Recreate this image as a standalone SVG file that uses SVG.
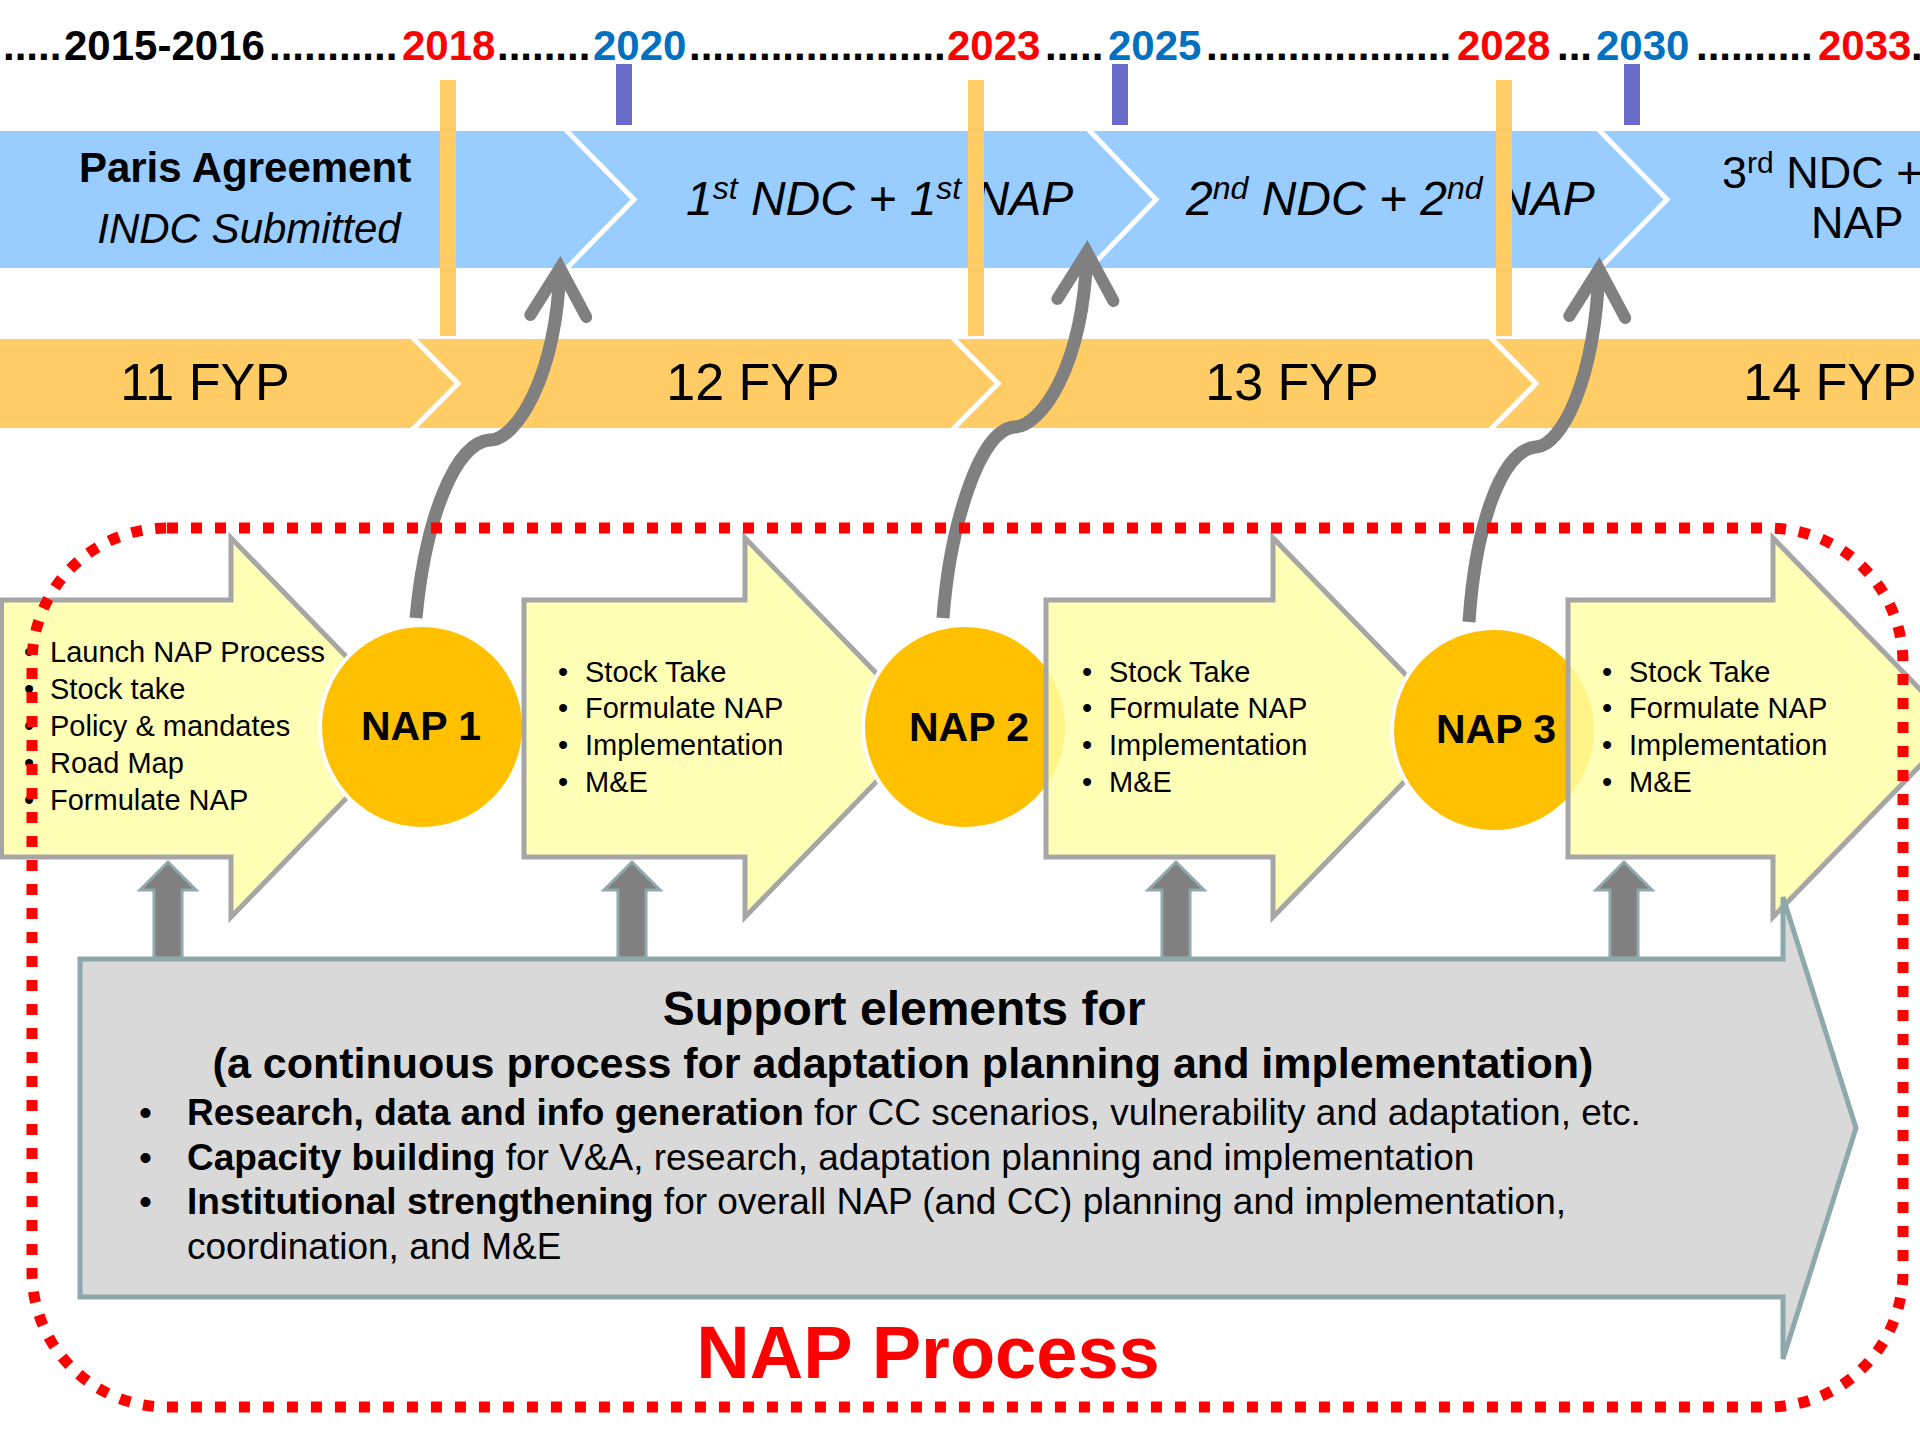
<svg xmlns="http://www.w3.org/2000/svg" width="1920" height="1440" viewBox="0 0 1920 1440">
<style>
text{font-family:"Liberation Sans",Arial,sans-serif;fill:#000}
.tl{font-size:42px;font-weight:bold}
.red{fill:#FF0000}
.blue{fill:#0070C0}
.otick{fill:#FFCC66}
.ptick{fill:#6B6BCC}
.sep{fill:none;stroke:#FFFFFF;stroke-width:5;stroke-linejoin:miter}
.ndc{font-size:48px;font-style:italic}
.fyp{font-size:52px;text-anchor:middle}
.yarrow{fill:#FFFFA6;fill-opacity:0.82;stroke:#A6A6A6;stroke-width:5}
.nap{fill:#FFC000;stroke:#FFFFFF;stroke-width:4}
.napt{font-size:41px;font-weight:bold;text-anchor:middle}
.bl{font-size:29px}
.up{fill:#808080;stroke:#8FA9AD;stroke-width:3}
.sup{fill:#D9D9D9;stroke:#8EA9AC;stroke-width:5}
.st{font-size:37px}
.b{font-weight:bold}
.curve{fill:none;stroke:#808080;stroke-width:13;stroke-linecap:butt}
</style>
<defs>
<marker id="vhead" markerUnits="userSpaceOnUse" viewBox="-70 -50 100 100" markerWidth="100" markerHeight="100" refX="0" refY="0" orient="auto" overflow="visible">
<path d="M-48,-28 L0,0 L-48,28" fill="none" stroke="#808080" stroke-width="12" stroke-linecap="round" stroke-linejoin="miter"/>
</marker>
</defs>
<rect width="1920" height="1440" fill="#FFFFFF"/>

<g id="timeline">
<text class="tl" y="60"><tspan x="3">.....</tspan><tspan x="64">2015-2016</tspan><tspan x="269">...........</tspan><tspan x="402" class="red">2018</tspan><tspan x="497">........</tspan><tspan x="593" class="blue">2020</tspan><tspan x="689">......................</tspan><tspan x="947" class="red">2023</tspan><tspan x="1045">.....</tspan><tspan x="1108" class="blue">2025</tspan><tspan x="1206">.....................</tspan><tspan x="1457" class="red">2028</tspan><tspan x="1557">...</tspan><tspan x="1596" class="blue">2030</tspan><tspan x="1696">..........</tspan><tspan x="1818" class="red">2033</tspan><tspan x="1911">.</tspan></text>
</g>

<g id="ndc-band">
<rect x="0" y="131" width="1920" height="137" fill="#99CCFF"/>
<polyline class="sep" points="564,128 634,199.5 564,271"/>
<polyline class="sep" points="1087,128 1156,199.5 1087,271"/>
<polyline class="sep" points="1597,128 1667,199.5 1597,271"/>
<g id="seg-paris">
<text x="245" y="182" font-size="42" font-weight="bold" text-anchor="middle">Paris Agreement</text>
<text x="249" y="243" font-size="42" font-style="italic" text-anchor="middle">INDC Submitted</text>
</g>
<g id="seg-ndc1">
<text class="ndc" x="686" y="215">1<tspan dy="-16" font-size="32">st</tspan><tspan dy="16"> NDC + 1</tspan><tspan dy="-16" font-size="32">st</tspan><tspan dy="16"> NAP</tspan></text>
</g>
<g id="seg-ndc2">
<text class="ndc" x="1186" y="215">2<tspan dy="-16" font-size="32">nd</tspan><tspan dy="16"> NDC + 2</tspan><tspan dy="-16" font-size="32">nd</tspan><tspan dy="16"> NAP</tspan></text>
</g>
<g id="seg-ndc3">
<text x="1722" y="188" font-size="45">3<tspan dy="-15" font-size="30">rd</tspan><tspan dy="15"> NDC +</tspan></text>
<text x="1811" y="238" font-size="45">NAP</text>
</g>
</g>

<g id="ticks">
<rect class="otick" x="440" y="80" width="16" height="256"/>
<rect class="otick" x="968" y="80" width="16" height="256"/>
<rect class="otick" x="1496" y="80" width="16" height="256"/>
<rect class="ptick" x="616" y="64" width="16" height="61"/>
<rect class="ptick" x="1112" y="64" width="16" height="61"/>
<rect class="ptick" x="1624" y="64" width="16" height="61"/>
</g>

<g id="fyp-band">
<rect x="0" y="339" width="1920" height="89" fill="#FFCC66"/>
<polyline class="sep" points="411,336 458,383.5 411,431"/>
<polyline class="sep" points="951,336 998,383.5 951,431"/>
<polyline class="sep" points="1489,336 1536,383.5 1489,431"/>
<text class="fyp" x="205" y="400">11 FYP</text>
<text class="fyp" x="753" y="400">12 FYP</text>
<text class="fyp" x="1292" y="400">13 FYP</text>
<text class="fyp" x="1830" y="400">14 FYP</text>
</g>

<g id="step-launch">
<polygon class="yarrow" points="1.5,600 231,600 231,538 415,727.5 231,917 231,857 1.5,857"/>
<text class="bl"><tspan x="24" y="662">•</tspan><tspan x="50" y="662">Launch NAP Process</tspan><tspan x="24" y="699">•</tspan><tspan x="50" y="699">Stock take</tspan><tspan x="24" y="736">•</tspan><tspan x="50" y="736">Policy &amp; mandates</tspan><tspan x="24" y="773">•</tspan><tspan x="50" y="773">Road Map</tspan><tspan x="24" y="810">•</tspan><tspan x="50" y="810">Formulate NAP</tspan></text>
</g>
<g id="nap1">
<circle class="nap" cx="422" cy="727" r="102"/>
<text class="napt" x="421" y="740">NAP 1</text>
</g>
<g id="step-2">
<polygon class="yarrow" points="524,600 745,600 745,538 929,727.5 745,917 745,857 524,857"/>
<text class="bl"><tspan x="558" y="682">•</tspan><tspan x="585" y="682">Stock Take</tspan><tspan x="558" y="718">•</tspan><tspan x="585" y="718">Formulate NAP</tspan><tspan x="558" y="755">•</tspan><tspan x="585" y="755">Implementation</tspan><tspan x="558" y="792">•</tspan><tspan x="585" y="792">M&amp;E</tspan></text>
</g>
<g id="nap2">
<circle class="nap" cx="965" cy="727" r="102"/>
<text class="napt" x="969" y="741">NAP 2</text>
</g>
<g id="step-3">
<polygon class="yarrow" points="1046,600 1273,600 1273,538 1457,727.5 1273,917 1273,857 1046,857"/>
<text class="bl"><tspan x="1082" y="682">•</tspan><tspan x="1109" y="682">Stock Take</tspan><tspan x="1082" y="718">•</tspan><tspan x="1109" y="718">Formulate NAP</tspan><tspan x="1082" y="755">•</tspan><tspan x="1109" y="755">Implementation</tspan><tspan x="1082" y="792">•</tspan><tspan x="1109" y="792">M&amp;E</tspan></text>
</g>
<g id="nap3">
<circle class="nap" cx="1494" cy="730" r="102"/>
<text class="napt" x="1496" y="743">NAP 3</text>
</g>
<g id="step-4">
<polygon class="yarrow" points="1568,600 1773,600 1773,538 1957,727.5 1773,917 1773,857 1568,857"/>
<text class="bl"><tspan x="1602" y="682">•</tspan><tspan x="1629" y="682">Stock Take</tspan><tspan x="1602" y="718">•</tspan><tspan x="1629" y="718">Formulate NAP</tspan><tspan x="1602" y="755">•</tspan><tspan x="1629" y="755">Implementation</tspan><tspan x="1602" y="792">•</tspan><tspan x="1629" y="792">M&amp;E</tspan></text>
</g>

<g id="support">
<polygon class="sup" points="80,959 1783,959 1783,897 1856,1128 1783,1359 1783,1297 80,1297"/>
<text x="904" y="1025" font-size="48" font-weight="bold" text-anchor="middle">Support elements for</text>
<text x="903" y="1078" font-size="43" font-weight="bold" text-anchor="middle">(a continuous process for adaptation planning and implementation)</text>
<text class="st"><tspan x="139" y="1125">•</tspan><tspan x="187" y="1125" class="b">Research, data and info generation</tspan><tspan> for CC scenarios, vulnerability and adaptation, etc.</tspan></text>
<text class="st"><tspan x="139" y="1170">•</tspan><tspan x="187" y="1170" class="b">Capacity building</tspan><tspan> for V&amp;A, research, adaptation planning and implementation</tspan></text>
<text class="st"><tspan x="139" y="1214">•</tspan><tspan x="187" y="1214" class="b">Institutional strengthening</tspan><tspan> for overall NAP (and CC) planning and implementation,</tspan></text>
<text class="st" x="187" y="1259">coordination, and M&amp;E</text>
</g>

<g id="connectors">
<polygon class="up" points="168,862 196,890 182,890 182,958 154,958 154,890 140,890"/>
<polygon class="up" points="632,862 660,890 646,890 646,958 618,958 618,890 604,890"/>
<polygon class="up" points="1176,862 1204,890 1190,890 1190,958 1162,958 1162,890 1148,890"/>
<polygon class="up" points="1624,862 1652,890 1638,890 1638,958 1610,958 1610,890 1596,890"/>
<path class="curve" marker-end="url(#vhead)" d="M416,618 C425,520 455,442 490,440 C515,440 556,380 560,268"/>
<path class="curve" marker-end="url(#vhead)" d="M943,618 C950,525 980,428 1015,427 C1040,426 1083,370 1087,252"/>
<path class="curve" marker-end="url(#vhead)" d="M1469,622 C1475,530 1500,450 1536,447 C1562,445 1595,380 1599,269"/>
</g>

<g id="nap-process">
<rect x="32" y="528" width="1871" height="879" rx="135" ry="135" fill="none" stroke="#FF0000" stroke-width="11" stroke-dasharray="11 13"/>
<text x="928" y="1378" font-size="74" font-weight="bold" text-anchor="middle" class="red">NAP Process</text>
</g>
</svg>
